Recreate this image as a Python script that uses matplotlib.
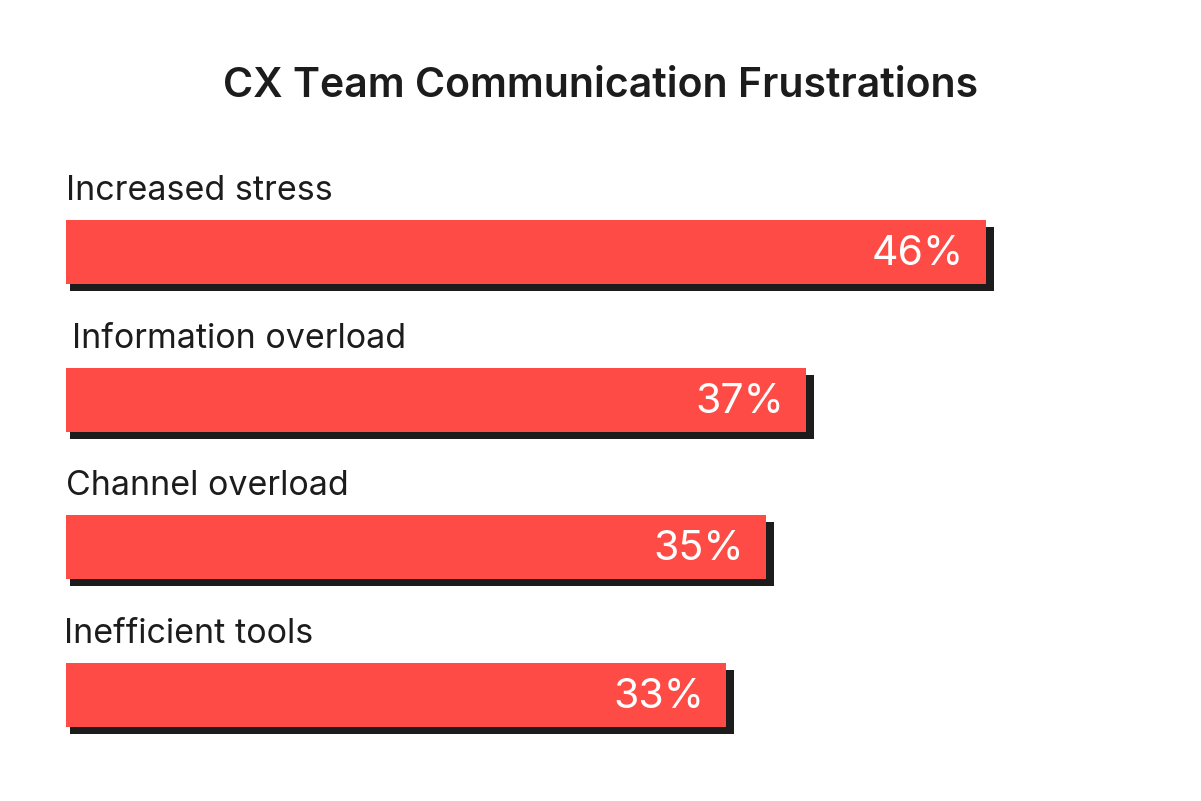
import matplotlib.pyplot as plt
from matplotlib.patches import Rectangle

categories = ["Increased stress", "Information overload", "Channel overload", "Inefficient tools"]
values = [46, 37, 35, 33]
value_labels = ["46%", "37%", "35%", "33%"]
title = "CX Team Communication Frustrations"

RED = "#ff4b45"
DARK = "#1c1c1c"

plt.rcParams['font.family'] = ['Inter', 'DejaVu Sans']

fig = plt.figure(figsize=(12.01, 8.01), dpi=100)
ax = fig.add_axes([0, 0, 1, 1])

# 1 unit on x = 20 px, bar left edge at 66 px; 1 row = 147.7 px, first center at 252 px
px = 20.0
row = 147.7
ax.set_xlim(-66 / px, (1201 - 66) / px)
ax.set_ylim((801 - 252) / row, -252 / row)
ax.axis('off')

bar_h = 64 / row
label_dx = [0, 6, 0, -2]

for i, (cat, v, lab) in enumerate(zip(categories, values, value_labels)):
    # dark drop shadow, shifted right and down
    ax.add_patch(Rectangle((4 / px, i - bar_h / 2 + 7 / row), v + 4 / px, bar_h,
                           facecolor=DARK, edgecolor='none', zorder=1))
    ax.add_patch(Rectangle((0, i - bar_h / 2), v, bar_h,
                           facecolor=RED, edgecolor='none', zorder=2))
    ax.text(v - 22 / px, i + 2 / row, lab, ha='right', va='center',
            color='white', fontsize=29.5, zorder=3)
    ax.text(label_dx[i] / px, i - bar_h / 2 - 20 / row, cat, ha='left',
            va='baseline', color=DARK, fontsize=24.5)

fig.text(0.5, 1 - 97 / 801, title, ha='center', va='baseline',
         fontsize=29.5, fontweight='semibold', color=DARK)

fig.savefig("out.png", dpi=100, facecolor='white')
